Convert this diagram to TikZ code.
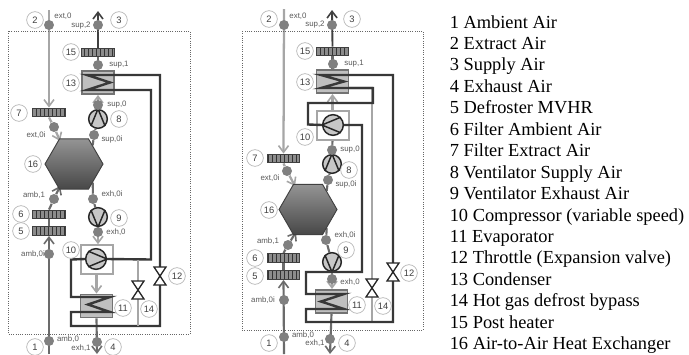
\documentclass[tikz,border=0pt]{standalone}
\usepackage{fontspec}
\setmainfont{Liberation Serif}
\newfontfamily\lblfont{Liberation Sans}
\usetikzlibrary{shapes.geometric,patterns,backgrounds,arrows.meta,shadings}
\definecolor{airdark}{gray}{0.42}
\definecolor{airlight}{gray}{0.65}
\definecolor{pipe}{gray}{0.22}
\definecolor{txtgray}{gray}{0.35}
\tikzset{
  x=0.75pt,y=-0.75pt,
  numc/.style={circle,draw=black!30,line width=0.5pt,fill=white,minimum size=12.5pt,inner sep=0pt,font=\lblfont\fontsize{7}{8}\selectfont,text=black!75},
  lbl/.style={font=\lblfont\fontsize{5.9}{6}\selectfont,text=txtgray,inner sep=0pt},
  state/.style={circle,fill=black!50,minimum size=7.5pt,inner sep=0pt},
  filterbox/.style={rectangle,draw=black!75,line width=0.8pt,minimum width=24.5pt,minimum height=6.6pt,inner sep=0pt,preaction={fill=black!45},pattern=vertical lines,pattern color=black!80},
  hexa/.style={regular polygon,regular polygon sides=6,minimum size=43.5pt,inner sep=0pt,draw=black!75,line width=0.7pt,top color=black!42,bottom color=black!72},
  hxbox/.style={rectangle,draw=black!55,fill=black!25,line width=1.2pt,minimum width=24pt,minimum height=17.5pt,inner sep=0pt},
  compbox/.style={rectangle,draw=black!35,fill=white,line width=1.5pt,minimum width=24pt,minimum height=21.5pt,inner sep=0pt},
  rotor/.style={circle,draw=black!85,fill=black!22,line width=1.1pt,inner sep=0pt},
  aird/.style={draw=airdark,line width=1.6pt},
  airl/.style={draw=airlight,line width=1.7pt},
  supl/.style={draw=black!75,line width=1.4pt},
  pipeline/.style={draw=pipe,line width=1.8pt,line join=miter},
  bypass/.style={draw=black!35,line width=1.5pt},
  symb/.style={draw=black!85,line width=1.1pt},
  coil/.style={draw=pipe,line width=1.8pt,line join=miter},
  frame/.style={draw=black!60,line width=0.7pt,densely dotted},
  valveb/.style={draw=black!85,line width=1pt,fill=white,line join=miter},
  arr/.style={-{Straight Barb[length=5pt,width=7.5pt,line width=1.2pt]}},
  listitem/.style={anchor=base west,inner sep=0pt,font=\fontsize{13.8}{16}\selectfont}
}
\newcommand{\valvesym}[3]{% name x y
  \coordinate (#1) at (#2,#3);
  \path[valveb] (#2-6,#3-9) -- (#2+6,#3-9) -- (#2-6,#3+9) -- (#2+6,#3+9) -- cycle;
}
\begin{document}
\begin{tikzpicture}
\useasboundingbox (0,0) rectangle (689,354);
% ---------- LEFT ----------
\draw[frame] (8,31) rectangle (190,334);
\node[hexa] (Lhex) at (74,164) {};
\node[filterbox] (Lf7) at (49,112.5) {};
\node[filterbox] (Lf15) at (98,52.5) {};
\node[filterbox] (Lf6) at (49,214.5) {};
\node[filterbox] (Lf5) at (49,231) {};
\node[hxbox] (Lcond) at (98,82.5) {};
\node[compbox] (Lcbox) at (96.5,259.5) {};
\node[hxbox] (Levap) at (96.5,306) {};
\node[rotor,minimum size=14pt] (Lfan8) at (98,119) {};
\node[rotor,minimum size=14pt] (Lfan9) at (98,217) {};
\node[rotor,minimum size=15.5pt] (Lcomp) at (96,259) {};
\draw[symb] (Lfan8.225) -- (Lfan8.north) -- (Lfan8.315);
\draw[symb] (Lfan9.135) -- (Lfan9.south) -- (Lfan9.45);
\draw[symb] (Lcomp.135) -- (Lcomp.east) -- (Lcomp.225);
\node[state] (Ld2) at (49,25) {};
\node[state] (Ld3) at (98,25) {};
\node[state] (Ld15) at (98,65) {};
\node[state] (Ld8) at (98,105) {};
\node[state] (Ld7) at (54,127) {};
\node[state] (Ld0i) at (94,135) {};
\node[state] (Ldamb1) at (54,199) {};
\node[state] (Ldexh0i) at (93,199) {};
\node[state] (Ldexh0) at (98,232) {};
\node[state] (Ldamb0i) at (49,254) {};
\node[state] (Ldamb0) at (49,341) {};
\node[state] (Ldexh1) at (97,342) {};
\coordinate (Ltop2) at (49,10);
\coordinate (Ltop3) at (98,11);
\coordinate (Lbot1) at (49,354);
\coordinate (Lbot4) at (97,354);
\coordinate (Lhexin) at (60,141);
\coordinate (Lhexamb) at (60,186);
\begin{scope}[on background layer]
\draw[airl,arr] (Ltop2) -- (Lf7.north);
\draw[airl] (Lf7.south) -- (Ld7);
\draw[airl,arr] (Ld7) -- (Lhexin);
\draw[supl,arr] (Lf15.north) -- (Ltop3);
\draw[aird] (Lf15.south) -- (Lcond.north);
\draw[airl,arr] (Lfan8.north) -- (Lcond.south);
\draw[aird] (Lfan8) -- (Ld0i) -- (Lhex.north east);
\draw[aird,arr] (Lf6.north) -- (Ldamb1) -- (Lhexamb);
\draw[aird] (Lf6.south) -- (Lf5.north);
\draw[aird,arr] (Lbot1) -- (Lf5.south);
\draw[aird] (Lhex.south east) -- (Ldexh0i) -- (Lfan9);
\draw[airl,arr] (Lfan9.south) -- (Lcbox.north -| Lfan9);
\draw[airl,arr] (Lcbox.south) -- (Levap.north);
\draw[aird,arr] (Levap.south) -- (Lbot4);
\end{scope}
\draw[coil] (115,75) -- (87,75) -- (110,82.5) -- (87,90) -- (115,90);
\draw[pipeline] (115,75) -| (160,326) -- (71,326) -- (71,312) -- (110,312) -- (88,304.5) -- (110,297) -- (71,297) -- (71,259.5) -- (Lcomp.west);
\draw[pipeline] (115,90) -| (151,259.5) -- (Lcomp.east);
\draw[bypass] (138,259.5) -- (138,326);
\valvesym{Lv12}{160}{276}
\valvesym{Lv14}{138}{290}
\node[numc] at (35,20) {2};
\node[numc] at (119,20) {3};
\node[numc] at (71,52) {15};
\node[numc] at (71,83) {13};
\node[numc] at (19,113) {7};
\node[numc] at (119,119) {8};
\node[numc] at (33,164) {16};
\node[numc] at (21,214) {6};
\node[numc] at (21,231) {5};
\node[numc] at (119,218) {9};
\node[numc] at (71,250) {10};
\node[numc] at (123,308) {11};
\node[numc] at (149,309) {14};
\node[numc] at (177,276) {12};
\node[numc] at (35,347) {1};
\node[numc] at (113,347) {4};
\node[lbl] at (63,16) {ext,0};
\node[lbl] at (81,26) {sup,2};
\node[lbl] at (119,65) {sup,1};
\node[lbl] at (117,105) {sup,0};
\node[lbl] at (36,135) {ext,0i};
\node[lbl] at (112,139) {sup,0i};
\node[lbl] at (34,195) {amb,1};
\node[lbl] at (112,194) {exh,0i};
\node[lbl] at (116,232) {exh,0};
\node[lbl] at (33,254) {amb,0i};
\node[lbl] at (68,339) {amb,0};
\node[lbl] at (81,348) {exh,1};
% ---------- RIGHT ----------
\draw[frame] (242,31) rectangle (423,330);
\node[hexa] (Rhex) at (308,209.5) {};
\node[filterbox] (Rf7) at (283.5,158.5) {};
\node[filterbox] (Rf15) at (332.5,51.5) {};
\node[filterbox] (Rf6) at (283.5,258) {};
\node[filterbox] (Rf5) at (283.5,275) {};
\node[hxbox] (Rcond) at (332.5,81.5) {};
\node[compbox] (Rcbox) at (332.5,125.5) {};
\node[hxbox] (Revap) at (331.5,301.5) {};
\node[rotor,minimum size=14pt] (Rfan8) at (332,164) {};
\node[rotor,minimum size=14pt] (Rfan9) at (332,262) {};
\node[rotor,minimum size=15.5pt] (Rcomp) at (333,125) {};
\draw[symb] (Rfan8.225) -- (Rfan8.north) -- (Rfan8.315);
\draw[symb] (Rfan9.135) -- (Rfan9.south) -- (Rfan9.45);
\draw[symb] (Rcomp.45) -- (Rcomp.west) -- (Rcomp.315);
\node[state] (Rd2) at (284,25) {};
\node[state] (Rd3) at (332,25) {};
\node[state] (Rd15) at (333,64) {};
\node[state] (Rd8) at (332,150) {};
\node[state] (Rd7) at (287,171) {};
\node[state] (Rd0i) at (328,180) {};
\node[state] (Rdamb1) at (288,245) {};
\node[state] (Rdexh0i) at (326,240) {};
\node[state] (Rdexh0) at (332,279) {};
\node[state] (Rdamb0i) at (284,300) {};
\node[state] (Rdamb0) at (284,337) {};
\node[state] (Rdexh1) at (330,339) {};
\coordinate (Rtop2) at (284,9);
\coordinate (Rtop3) at (332,10);
\coordinate (Rbot1) at (284,354);
\coordinate (Rbot4) at (330,354);
\coordinate (Rhexin) at (295,186);
\coordinate (Rhexamb) at (296,232);
\begin{scope}[on background layer]
\draw[airl,arr] (Rtop2) -- (Rf7.north);
\draw[airl] (Rf7.south) -- (Rd7);
\draw[airl,arr] (Rd7) -- (Rhexin);
\draw[supl,arr] (Rf15.north) -- (Rtop3);
\draw[aird] (Rf15.south) -- (Rcond.north);
\draw[airl,arr] (Rcbox.north) -- (Rcond.south);
\draw[aird] (Rcbox.south) -- (Rd8) -- (Rfan8);
\draw[aird] (Rfan8) -- (Rd0i) -- (Rhex.north east);
\draw[aird,arr] (Rf6.north) -- (Rdamb1) -- (Rhexamb);
\draw[aird] (Rf6.south) -- (Rf5.north);
\draw[aird,arr] (Rbot1) -- (Rf5.south);
\draw[aird] (Rhex.south east) -- (Rdexh0i) -- (Rfan9);
\draw[airl,arr] (Rfan9.south) -- (Revap.north -| Rfan9);
\draw[aird,arr] (Revap.south) -- (Rbot4);
\end{scope}
\draw[bypass] (372,88) -- (372,322);
\draw[coil] (349,75) -- (321,75) -- (344,81.5) -- (321,88) -- (373,88);
\draw[pipeline] (349,75) -| (393,322) -- (306,322) -- (306,309) -- (344,309) -- (321,301.5) -- (344,294) -- (306,294) -- (306,272) -- (362,272) -- (362,125) -- (Rcomp.east);
\draw[pipeline] (349,88) -| (373,103) -| (308,124.5) -- (Rcomp.west);
\valvesym{Rv12}{393}{272}
\valvesym{Rv14}{372}{288}
\node[numc] at (269,19) {2};
\node[numc] at (352,19) {3};
\node[numc] at (305,51) {15};
\node[numc] at (305,82) {13};
\node[numc] at (305,137) {10};
\node[numc] at (255,158) {7};
\node[numc] at (349,170) {8};
\node[numc] at (269,210) {16};
\node[numc] at (346,250) {9};
\node[numc] at (255,258) {6};
\node[numc] at (255,276) {5};
\node[numc] at (357,305) {11};
\node[numc] at (383,306) {14};
\node[numc] at (409,273) {12};
\node[numc] at (269,343) {1};
\node[numc] at (347,343) {4};
\node[lbl] at (298,16) {ext,0};
\node[lbl] at (315,25) {sup,2};
\node[lbl] at (354,64) {sup,1};
\node[lbl] at (350,150) {sup,0};
\node[lbl] at (270,178) {ext,0i};
\node[lbl] at (346,184) {sup,0i};
\node[lbl] at (268,241) {amb,1};
\node[lbl] at (345,235) {exh,0i};
\node[lbl] at (350,282) {exh,0};
\node[lbl] at (263,300) {amb,0i};
\node[lbl] at (303,335) {amb,0};
\node[lbl] at (315,343) {exh,1};
% ---------- LIST ----------
\node[listitem] at (449.5,28) {1 Ambient Air};
\node[listitem] at (449.5,49.45) {2 Extract Air};
\node[listitem] at (449.5,70.9) {3 Supply Air};
\node[listitem] at (449.5,92.35) {4 Exhaust Air};
\node[listitem] at (449.5,113.8) {5 Defroster MVHR};
\node[listitem] at (449.5,135.25) {6 Filter Ambient Air};
\node[listitem] at (449.5,156.7) {7 Filter Extract Air};
\node[listitem] at (449.5,178.15) {8 Ventilator Supply Air};
\node[listitem] at (449.5,199.6) {9 Ventilator Exhaust Air};
\node[listitem] at (449.5,221.05) {10 Compressor (variable speed)};
\node[listitem] at (449.5,242.5) {11 Evaporator};
\node[listitem] at (449.5,263.95) {12 Throttle (Expansion valve)};
\node[listitem] at (449.5,285.4) {13 Condenser};
\node[listitem] at (449.5,306.85) {14 Hot gas defrost bypass};
\node[listitem] at (449.5,328.3) {15 Post heater};
\node[listitem] at (449.5,349.75) {16 Air-to-Air Heat Exchanger};
\end{tikzpicture}
\end{document}
